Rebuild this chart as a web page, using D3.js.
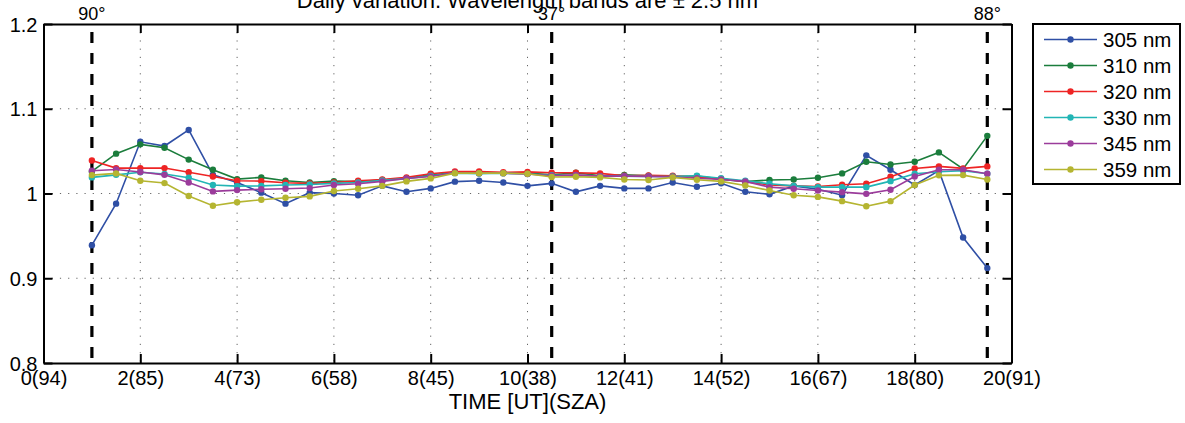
<!DOCTYPE html>
<html><head><meta charset="utf-8">
<script src="https://cdn.jsdelivr.net/npm/d3@7"></script>
<style>
html,body{margin:0;padding:0;background:#fff;}
svg text{font-family:"Liberation Sans",Arial,Helvetica,sans-serif;fill:#000;}
</style></head>
<body><svg id="chart" width="1185" height="423"></svg>
<script>
const hours = [1,1.5,2,2.5,3,3.5,4,4.5,5,5.5,6,6.5,7,7.5,8,8.5,9,9.5,10,10.5,11,11.5,12,12.5,13,13.5,14,14.5,15,15.5,16,16.5,17,17.5,18,18.5,19,19.5];
const seriesNames = ["305 nm","310 nm","320 nm","330 nm","345 nm","359 nm"];
const s305 = [0.939,0.988,1.061,1.056,1.075,1.022,1.013,1.001,0.988,1.001,1.000,0.998,1.009,1.002,1.006,1.014,1.015,1.013,1.009,1.012,1.002,1.009,1.006,1.006,1.013,1.008,1.012,1.002,0.999,1.009,1.005,0.998,1.045,1.028,1.010,1.027,0.948,0.912];
const s310 = [1.026,1.047,1.058,1.054,1.040,1.028,1.017,1.019,1.015,1.013,1.0146,1.014,1.016,1.018,1.022,1.0245,1.024,1.024,1.024,1.022,1.0245,1.021,1.022,1.021,1.020,1.0205,1.017,1.014,1.016,1.0166,1.0186,1.0237,1.0374,1.0343,1.0374,1.0485,1.029,1.068];
const s320 = [1.039,1.030,1.030,1.030,1.025,1.020,1.015,1.0146,1.0127,1.012,1.013,1.015,1.0166,1.019,1.0233,1.026,1.026,1.025,1.0255,1.0245,1.0245,1.0237,1.021,1.0214,1.021,1.019,1.0174,1.0138,1.010,1.009,1.0083,1.0103,1.0115,1.0197,1.0296,1.032,1.0296,1.032];
const s330 = [1.019,1.022,1.025,1.023,1.0186,1.010,1.0087,1.009,1.010,1.0107,1.012,1.013,1.0155,1.0175,1.021,1.024,1.0235,1.024,1.023,1.0215,1.0215,1.0205,1.0205,1.020,1.020,1.021,1.018,1.015,1.0115,1.009,1.0075,1.0075,1.0075,1.0146,1.0233,1.0256,1.027,1.0233];
const s345 = [1.0268,1.0284,1.0253,1.022,1.013,1.0025,1.004,1.005,1.0056,1.0064,1.010,1.0115,1.0143,1.0177,1.020,1.0245,1.024,1.024,1.023,1.021,1.022,1.0205,1.0205,1.020,1.0194,1.018,1.0166,1.0143,1.0075,1.0056,1.0036,1.0016,0.9996,1.0044,1.020,1.028,1.028,1.0233];
const s359 = [1.0217,1.0237,1.015,1.0123,0.997,0.9855,0.9898,0.9926,0.995,0.9966,1.003,1.0056,1.009,1.0143,1.0178,1.024,1.024,1.024,1.0233,1.0194,1.0197,1.019,1.0166,1.016,1.019,1.0162,1.0143,1.0095,1.0036,0.998,0.996,0.991,0.985,0.991,1.010,1.0214,1.0217,1.0166];
const seriesColors = ["#2f4fa5","#1b7d3c","#ee2424","#22b5b5","#9b3c9b","#b5b531"];
const xTickValues = [0,2,4,6,8,10,12,14,16,18,20];
const xTickLabels = ["0(94)","2(85)","4(73)","6(58)","8(45)","10(38)","12(41)","14(52)","16(67)","18(80)","20(91)"];
const yTickValues = [0.8,0.9,1.0,1.1,1.2];
const yTickLabels = ["0.8","0.9","1","1.1","1.2"];
const markerHours = [1,10.5,19.5];
const markerLabels = ["90°","37°","88°"];
const titleText = "Daily variation. Wavelength bands are ± 2.5 nm";
const xLabelText = "TIME [UT](SZA)";

const allSeries = [s305,s310,s320,s330,s345,s359];
const L = 43.5, R = 1011.5, T = 24, B = 363;
const svg = d3.select("#chart");
const x = d3.scaleLinear().domain([0,20]).range([L,R]);
const y = d3.scaleLinear().domain([0.8,1.2]).range([B,T]);

// grid
const grid = svg.append("g");
grid.selectAll("line.vg").data(xTickValues.filter(v=>v>0&&v<20)).join("line")
  .attr("x1",d=>x(d)).attr("x2",d=>x(d)).attr("y1",T).attr("y2",B)
  .attr("stroke","#666").attr("stroke-width",1).attr("stroke-dasharray","1.2,7");
grid.selectAll("line.hg").data(yTickValues.filter(v=>v>0.85&&v<1.15)).join("line")
  .attr("x1",L).attr("x2",R).attr("y1",d=>y(d)).attr("y2",d=>y(d))
  .attr("stroke","#666").attr("stroke-width",1).attr("stroke-dasharray","1.2,7");

// axes
const fmtX = (d,i)=>xTickLabels[i];
const fmtY = (d,i)=>yTickLabels[i];
const axB = svg.append("g").attr("transform",`translate(0,${B})`)
  .call(d3.axisBottom(x).tickValues(xTickValues).tickFormat(fmtX).tickSizeInner(-9).tickSizeOuter(0).tickPadding(8));
const axT = svg.append("g").attr("transform",`translate(0,${T})`)
  .call(d3.axisTop(x).tickValues(xTickValues).tickFormat("").tickSizeInner(-9).tickSizeOuter(0));
const axL = svg.append("g").attr("transform",`translate(${L},0)`)
  .call(d3.axisLeft(y).tickValues(yTickValues).tickFormat(fmtY).tickSizeInner(-9).tickSizeOuter(0).tickPadding(6));
const axR = svg.append("g").attr("transform",`translate(${R},0)`)
  .call(d3.axisRight(y).tickValues(yTickValues).tickFormat("").tickSizeInner(-9).tickSizeOuter(0));
[axB,axT,axL,axR].forEach(a=>{
  a.select(".domain").attr("stroke","#000").attr("stroke-width",2);
  a.selectAll(".tick line").attr("stroke","#000").attr("stroke-width",2);
  a.selectAll(".tick text").attr("font-size",20).attr("font-family","Liberation Sans, Arial, sans-serif");
});
axB.selectAll(".tick text").attr("dy","0.71em");
axL.selectAll(".tick text").attr("dy","0.35em");

// dashed SZA markers
svg.selectAll("line.sza").data(markerHours).join("line")
  .attr("x1",d=>x(d)).attr("x2",d=>x(d)).attr("y1",T).attr("y2",B)
  .attr("stroke","#000").attr("stroke-width",3.2).attr("stroke-dasharray","11,10").attr("stroke-dashoffset",13);
svg.selectAll("text.sza").data(markerHours).join("text")
  .attr("x",d=>x(d)).attr("y",20).attr("text-anchor","middle").attr("font-size",18)
  .text((d,i)=>markerLabels[i]);

// series
const line = d3.line().x((d,i)=>x(hours[i])).y(d=>y(d));
allSeries.forEach((s,k)=>{
  const g = svg.append("g");
  g.append("path").datum(s).attr("d",line).attr("fill","none")
    .attr("stroke",seriesColors[k]).attr("stroke-width",1.6);
  g.selectAll("circle").data(s).join("circle")
    .attr("cx",(d,i)=>x(hours[i])).attr("cy",d=>y(d)).attr("r",3.2)
    .attr("fill",seriesColors[k]);
});

// title & labels
svg.append("text").attr("x",(L+R)/2).attr("y",8).attr("text-anchor","middle")
  .attr("font-size",22).text(titleText);
svg.append("text").attr("x",(L+R)/2).attr("y",409).attr("text-anchor","middle")
  .attr("font-size",22).text(xLabelText);

// legend
const lg = svg.append("g");
lg.append("rect").attr("x",1033).attr("y",24).attr("width",147).attr("height",160)
  .attr("fill","#fff").attr("stroke","#000").attr("stroke-width",2);
seriesNames.forEach((n,k)=>{
  const yy = 39.5 + k*26;
  lg.append("line").attr("x1",1044).attr("x2",1097).attr("y1",yy).attr("y2",yy)
    .attr("stroke",seriesColors[k]).attr("stroke-width",1.6);
  lg.append("circle").attr("cx",1070.5).attr("cy",yy).attr("r",3.2).attr("fill",seriesColors[k]);
  lg.append("text").attr("x",1103).attr("y",yy).attr("dy","0.35em").attr("font-size",20.5).text(n);
});
</script></body></html>
